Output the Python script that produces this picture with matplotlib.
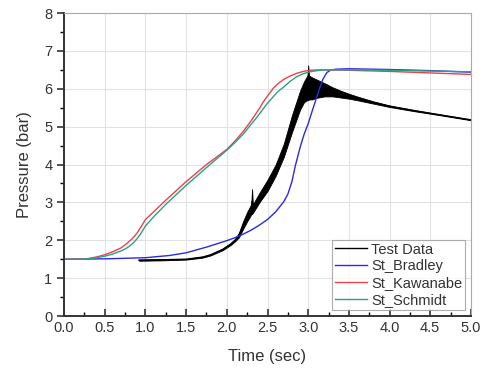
import numpy as np
import matplotlib
matplotlib.use('Agg')
import matplotlib.pyplot as plt
from matplotlib.ticker import MultipleLocator, FormatStrFormatter

plt.rcParams['font.family'] = ['Liberation Sans', 'DejaVu Sans']

# St_Kawanabe
kaw_t = [0.0, 0.2, 0.3, 0.4, 0.5, 0.6, 0.7, 0.75, 0.8, 0.85, 0.9, 0.95, 1.0, 1.1, 1.25, 1.5, 1.75, 2.0, 2.1, 2.2, 2.3, 2.4, 2.45, 2.5, 2.57, 2.63, 2.7, 2.78, 2.86, 2.94, 3.02, 3.1, 3.2, 3.5, 4.0, 4.5, 5.0]
kaw_p = [1.5, 1.5, 1.52, 1.56, 1.62, 1.7, 1.8, 1.88, 1.97, 2.07, 2.2, 2.37, 2.55, 2.75, 3.06, 3.55, 4.0, 4.4, 4.62, 4.87, 5.16, 5.48, 5.66, 5.81, 6.01, 6.14, 6.25, 6.34, 6.41, 6.46, 6.49, 6.5, 6.5, 6.49, 6.46, 6.42, 6.38]
# St_Schmidt
sch_t = [0.0, 0.2, 0.3, 0.4, 0.5, 0.6, 0.7, 0.75, 0.8, 0.85, 0.9, 0.95, 1.0, 1.1, 1.25, 1.5, 1.75, 2.0, 2.1, 2.2, 2.29, 2.37, 2.45, 2.5, 2.57, 2.63, 2.7, 2.78, 2.86, 2.94, 3.02, 3.14, 3.25, 3.5, 4.0, 4.5, 5.0]
sch_p = [1.5, 1.5, 1.51, 1.54, 1.58, 1.64, 1.72, 1.77, 1.84, 1.93, 2.05, 2.2, 2.38, 2.62, 2.95, 3.45, 3.92, 4.38, 4.58, 4.8, 5.04, 5.25, 5.48, 5.62, 5.79, 5.93, 6.05, 6.2, 6.32, 6.4, 6.45, 6.49, 6.5, 6.5, 6.49, 6.47, 6.45]
# St_Bradley
bra_t = [0.0, 0.5, 1.0, 1.3, 1.5, 1.75, 2.0, 2.1, 2.2, 2.3, 2.4, 2.5, 2.6, 2.7, 2.75, 2.8, 2.84, 2.9, 2.95, 3.0, 3.05, 3.1, 3.14, 3.18, 3.23, 3.28, 3.35, 3.5, 4.0, 4.5, 5.0]
bra_p = [1.5, 1.51, 1.54, 1.6, 1.67, 1.82, 1.99, 2.07, 2.16, 2.27, 2.4, 2.55, 2.75, 3.02, 3.22, 3.55, 3.95, 4.45, 4.8, 5.08, 5.42, 5.75, 6.01, 6.25, 6.43, 6.5, 6.52, 6.53, 6.51, 6.48, 6.44]
# Test Data (band: lower / upper edge of the noisy trace)
tst_t = [0.92, 1.2, 1.5, 1.7, 1.8, 1.95, 2.05, 2.1, 2.15, 2.2, 2.25, 2.3, 2.31, 2.32, 2.4, 2.5, 2.6, 2.7, 2.8, 2.9, 2.95, 2.99, 3.0, 3.01, 3.05, 3.1, 3.2, 3.3, 3.4, 3.5, 3.6, 3.8, 4.0, 4.3, 4.6, 5.0]
tst_lo = [1.46, 1.47, 1.49, 1.54, 1.6, 1.74, 1.88, 1.97, 2.08, 2.3, 2.5, 2.68, 2.7, 2.72, 3.0, 3.3, 3.7, 4.2, 4.85, 5.45, 5.65, 5.7, 5.7, 5.72, 5.72, 5.76, 5.8, 5.8, 5.77, 5.74, 5.7, 5.61, 5.52, 5.41, 5.31, 5.17]
tst_hi = [1.49, 1.5, 1.51, 1.57, 1.63, 1.78, 1.93, 2.03, 2.2, 2.5, 2.75, 2.95, 3.35, 2.95, 3.25, 3.6, 4.0, 4.55, 5.3, 5.95, 6.2, 6.35, 6.62, 6.35, 6.3, 6.25, 6.15, 6.04, 5.95, 5.87, 5.8, 5.67, 5.56, 5.44, 5.33, 5.19]

fig = plt.figure(figsize=(4.82, 3.74), dpi=100)
ax = fig.add_axes([0.133, 0.155, 0.844, 0.81])

ax.fill_between(tst_t, tst_lo, tst_hi, color='black', linewidth=0.6)
ax.plot(tst_t, (np.array(tst_lo) + np.array(tst_hi)) / 2, color='black', lw=1.0, label='Test Data')
ax.plot(bra_t, bra_p, color='#2a2ae0', lw=1.0, label='St_Bradley')
ax.plot(kaw_t, kaw_p, color='#e8424a', lw=1.0, label='St_Kawanabe')
ax.plot(sch_t, sch_p, color='#2e9e8a', lw=1.0, label='St_Schmidt')

ax.set_xlim(0, 5)
ax.set_ylim(0, 8)
ax.xaxis.set_major_locator(MultipleLocator(0.5))
ax.xaxis.set_minor_locator(MultipleLocator(0.25))
ax.yaxis.set_major_locator(MultipleLocator(1))
ax.yaxis.set_minor_locator(MultipleLocator(0.5))
ax.xaxis.set_major_formatter(FormatStrFormatter('%.1f'))
ax.tick_params(axis='x', which='major', direction='in', length=5, width=1.2, labelsize=10.5, colors='#333333')
ax.tick_params(axis='x', which='minor', direction='in', length=3, width=1.0)
ax.tick_params(axis='y', which='major', direction='out', length=5, width=1.2, labelsize=10.5, colors='#333333')
ax.tick_params(axis='y', which='minor', direction='out', length=3, width=1.0)
ax.grid(True, which='major', color='#e2e2e2', lw=0.8)
ax.set_axisbelow(True)

for s in ['left', 'bottom']:
    ax.spines[s].set_linewidth(1.4)
    ax.spines[s].set_color('#333333')
for s in ['top', 'right']:
    ax.spines[s].set_linewidth(0.8)
    ax.spines[s].set_color('#aaaaaa')

ax.set_xlabel('Time (sec)', fontsize=12, color='#333333', labelpad=10)
ax.set_ylabel('Pressure (bar)', fontsize=12, color='#333333', labelpad=9)

leg = ax.legend(loc='lower right', fontsize=10.5, frameon=True, fancybox=False,
                edgecolor='#999999', handlelength=2.2, handletextpad=0.3,
                borderpad=0.2, labelspacing=0.2, borderaxespad=0.4)
leg.get_frame().set_linewidth(0.8)
for t in leg.get_texts():
    t.set_color('#333333')

fig.savefig('out.png', dpi=100)
